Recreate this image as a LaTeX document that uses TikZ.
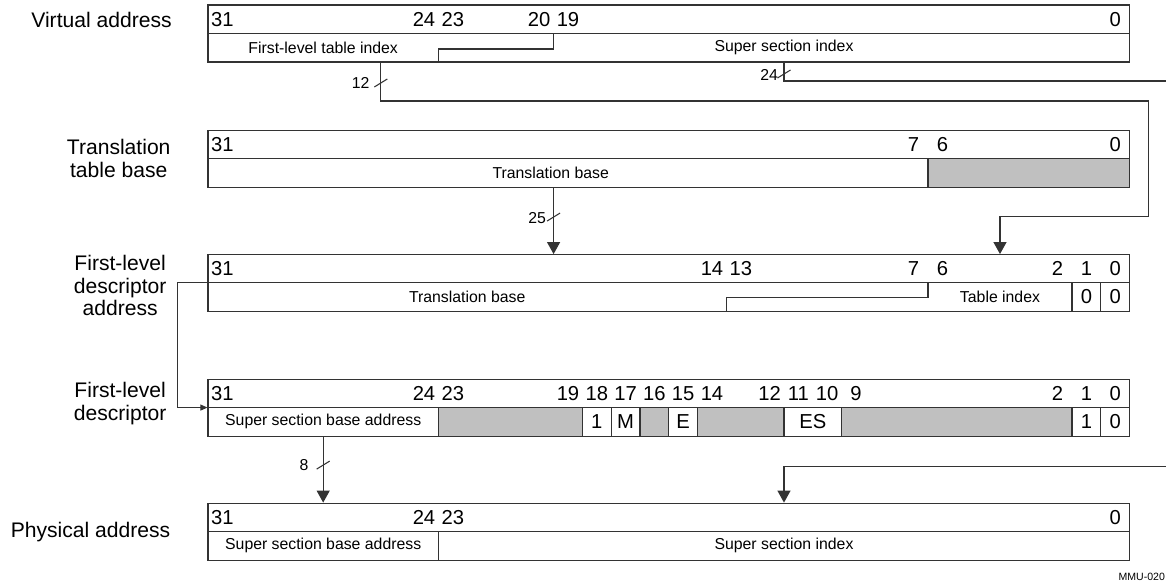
\documentclass[tikz,border=0pt]{standalone}
\usepackage{fontspec}
\setmainfont{Liberation Sans}
\usepackage{tikz}
\usetikzlibrary{arrows.meta,positioning,calc}
\usepackage{xcolor}
\definecolor{resgray}{HTML}{C0C0C0}
\definecolor{rule}{HTML}{333333}
\tikzset{
  regbox/.style={draw=rule, line width=0.6pt, inner sep=0pt, minimum width=18.432cm, minimum height=1.14cm},
  fldcell/.style={draw=rule, line width=0.6pt, inner sep=0pt, minimum height=0.57cm},
  nbits/.style={minimum width=#1*0.576cm},
  rescell/.style={fldcell, fill=resgray},
  bitno/.style={font=\fontsize{11.5}{12}\selectfont, inner sep=0pt},
  fldname/.style={font=\fontsize{9}{10}\selectfont, inner sep=0pt},
  fldval/.style={font=\fontsize{11.5}{12}\selectfont},
  rowlabel/.style={font=\fontsize{12}{13}\selectfont, align=center, inner sep=0pt},
  ptrline/.style={draw=rule, line width=0.6pt},
  ptrarrow/.style={ptrline, -{Triangle[length=6.8pt,width=7.4pt]}},
  ptrsmall/.style={ptrline, -{Triangle[length=4pt,width=3.4pt]}},
  buswidth/.style={font=\fontsize{9}{10}\selectfont, inner sep=0pt, anchor=east},
}
\begin{document}
\begin{tikzpicture}[x=0.576cm,y=-0.02cm]
  \useasboundingbox (-38.7222,0) rectangle (1.7639,587);

  % registers
  \node[regbox] (va) at (-15.5,33.5) {};
  \node[regbox] (ttb) at (-15.5,158.5) {};
  \node[regbox] (fda) at (-15.5,282.5) {};
  \node[regbox] (fld) at (-15.5,407.5) {};
  \node[regbox] (pa) at (-15.5,531.5) {};
  \foreach \r in {va,ttb,fda,fld,pa}
    \draw[ptrline] (\r.west) -- (\r.east);

  \node[rowlabel, anchor=east] (va-lbl) at (-32.75,19.5) {Virtual address};
  \node[rowlabel] (ttb-lbl) at (-34.6,158.5) {Translation\\table base};
  \node[rowlabel] (fda-lbl) at (-34.55,285.5) {First-level\\descriptor\\address};
  \node[rowlabel] (fld-lbl) at (-34.55,403.5) {First-level\\descriptor};
  \node[rowlabel, anchor=east] (pa-lbl) at (-32.8,531.5) {Physical address};

  % virtual address
  \foreach \b in {31,24,23,20,19,0}
    \node[bitno] (va-\b) at (-\b,19.25) {\b};
  \node[fldname] (va-l1) at (-27.5,47.75) {First-level table index};
  \node[fldname] (va-ss) at (-11.5,47.75) {Super section index};
  \draw[ptrline] (-23.5,62) |- (-19.5,49) -- (-19.5,33.5);

  % translation table base
  \foreach \b in {31,7,6,0}
    \node[bitno] (ttb-\b) at (-\b,144.25) {\b};
  \node[fldname] (ttb-base) at (-19.6,172.75) {Translation base};
  \node[rescell, nbits=7] (ttb-sbz) at (-3,172.75) {};

  % first-level descriptor address
  \foreach \b in {31,14,13,7,6,2,1,0}
    \node[bitno] (fda-\b) at (-\b,268.25) {\b};
  \node[fldname] (fda-base) at (-22.5,296.75) {Translation base};
  \draw[ptrline] (-13.5,311) |- (-6.5,297.5) -- (-6.5,282.5);
  \node[fldname] (fda-idx) at (-4,296.75) {Table index};
  \node[fldcell, fldval, nbits=1] (fda-z1) at (-1,296.75) {0};
  \node[fldcell, fldval, nbits=1] (fda-z0) at (0,296.75) {0};

  % first-level descriptor
  \foreach \b in {31,24,23,19,18,17,16,15,14,12,11,10,9,2,1,0}
    \node[bitno] (fld-\b) at (-\b,393.25) {\b};
  \node[fldcell, fldname, nbits=8] (fld-base) at (-27.5,421.75) {Super section base address};
  \node[rescell, nbits=5] (fld-r1) at (-21,421.75) {};
  \node[fldcell, fldval, nbits=1] (fld-one) at (-18,421.75) {1};
  \node[fldcell, fldval, nbits=1] (fld-m) at (-17,421.75) {M};
  \node[rescell, nbits=1] (fld-r2) at (-16,421.75) {};
  \node[fldcell, fldval, nbits=1] (fld-e) at (-15,421.75) {E};
  \node[rescell, nbits=3] (fld-r3) at (-13,421.75) {};
  \node[fldcell, fldval, nbits=2] (fld-es) at (-10.5,421.75) {ES};
  \node[rescell, nbits=8] (fld-r4) at (-5.5,421.75) {};
  \node[fldcell, fldval, nbits=1] (fld-t1) at (-1,421.75) {1};
  \node[fldcell, fldval, nbits=1] (fld-t0) at (0,421.75) {0};

  % physical address
  \foreach \b in {31,24,23,0}
    \node[bitno] (pa-\b) at (-\b,517.25) {\b};
  \node[fldcell, fldname, nbits=8] (pa-base) at (-27.5,545.75) {Super section base address};
  \node[fldname] (pa-ss) at (-11.5,545.75) {Super section index};

  % connectors
  \coordinate (va-idx-out) at (-25.5,62);
  \coordinate (fda-idx-in) at (-4,254);
  \coordinate (va-ss-out) at (-11.5,62);
  \coordinate (ss-exit) at (1.7639,81);
  \coordinate (ss-entry) at (1.7639,466);
  \coordinate (ttb-out) at (-19.5,187);
  \coordinate (fda-base-in) at (-19.5,254);

  \draw[ptrarrow] (va-idx-out) |- (1.15,101) |- (-4,216) -- (fda-idx-in);
  \draw[ptrline] (va-ss-out) |- (ss-exit);
  \draw[ptrarrow] (ttb-out) -- (fda-base-in);
  \draw[ptrsmall] (fda.west) -- ++(-1.05,0) |- (fld.west);
  \draw[ptrarrow] (fld-base.south) -- (fld-base.south |- pa.north);
  \draw[ptrarrow] (ss-entry) -| (pa-ss.north |- pa.north);

  % bus widths
  \coordinate (w12) at (-25.5,83);
  \coordinate (w24) at (-11.5,74);
  \coordinate (w25) at (-19.5,217);
  \coordinate (w8) at (-27.5,465);
  \foreach \w in {w12,w24,w25,w8}
    \draw[ptrline] ($(\w)+(-0.226,4)$) -- ($(\w)+(0.226,-4)$);
  \node[buswidth] (w12-lbl) at ($(w12)+(-0.38,0)$) {12};
  \node[buswidth] (w24-lbl) at ($(w24)+(-0.2,1)$) {24};
  \node[buswidth] (w25-lbl) at ($(w25)+(-0.25,1)$) {25};
  \node[buswidth] (w8-lbl) at ($(w8)+(-0.5,0)$) {8};

  \node[font=\fontsize{6}{7}\selectfont, anchor=east, inner sep=0pt] (fig-id) at (1.74,577) {MMU-020};
\end{tikzpicture}
\end{document}
